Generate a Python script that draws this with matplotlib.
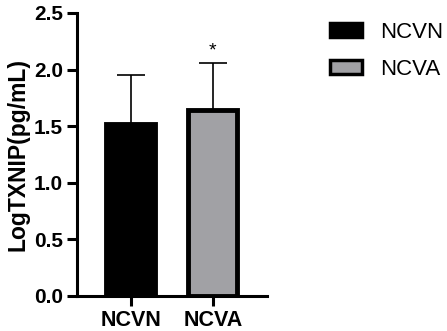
import matplotlib
matplotlib.use("Agg")
import matplotlib.pyplot as plt
from matplotlib.patches import Patch

plt.rcParams['font.family'] = ['Liberation Sans', 'DejaVu Sans']

groups = ["NCVN", "NCVA"]
means = [1.52, 1.64]
errs = [0.43, 0.42]
fills = ["#000000", "#a1a1a5"]
yticks = [0.0, 0.5, 1.0, 1.5, 2.0, 2.5]

fig = plt.figure(figsize=(4.47, 3.31), dpi=100)
ax = fig.add_axes([0.172, 0.106, 0.425, 0.855])

x = list(range(len(groups)))
ax.bar(x, means, width=0.6, color=fills, edgecolor="black", linewidth=3.5, zorder=2)
ax.errorbar(x, means, yerr=[[0, 0], errs], fmt="none", ecolor="black",
            elinewidth=1.2, capsize=10, capthick=1.2, zorder=1)

# significance mark
ax.text(1, means[1] + errs[1] + 0.1, "*", ha="center", va="center", fontsize=14)

ax.set_xlim(-0.66, 1.66)
ax.set_ylim(0, 2.5)
ax.set_yticks(yticks)
ax.set_yticklabels([f"{v:.1f}" for v in yticks], fontweight="bold", fontsize=15)
ax.set_xticks(x)
ax.set_xticklabels(groups, fontweight="bold", fontsize=15.5)
ax.set_ylabel("LogTXNIP(pg/mL)", fontweight="bold", fontsize=16.5, labelpad=3)

for side in ["top", "right"]:
    ax.spines[side].set_visible(False)
for side in ["left", "bottom"]:
    ax.spines[side].set_linewidth(2.2)
ax.tick_params(width=2.2, length=7, pad=3)

handles = [Patch(facecolor=c, edgecolor="black", linewidth=2.5) for c in fills]
fig.legend(handles, groups, loc="upper left", bbox_to_anchor=(0.738, 0.935),
           frameon=False, fontsize=16, handlelength=1.45, handleheight=0.6,
           handletextpad=0.8, labelspacing=0.75, borderpad=0, borderaxespad=0)

fig.savefig("out.png", dpi=100)
